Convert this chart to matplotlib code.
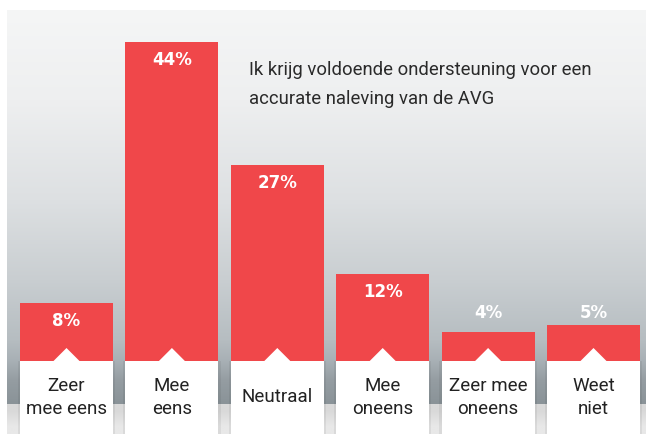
import numpy as np
import matplotlib
matplotlib.use("Agg")
import matplotlib.pyplot as plt
from matplotlib.patches import Rectangle, Polygon
from matplotlib.colors import to_rgb

categories = ["Zeer\nmee eens", "Mee\neens", "Neutraal", "Mee\noneens", "Zeer mee\noneens", "Weet\nniet"]
values = [8, 44, 27, 12, 4, 5]
title = "Ik krijg voldoende ondersteuning voor een\naccurate naleving van de AVG"

W, H = 646, 434
fig = plt.figure(figsize=(W / 100, H / 100), dpi=100)

# background in pixel coordinates
bg = fig.add_axes([0, 0, 1, 1])
bg.set_xlim(0, W)
bg.set_ylim(H, 0)
bg.axis("off")
stops = [(10, "#f5f6f6"), (100, "#eeeff0"), (200, "#dde0e2"), (280, "#c9ced1"),
         (340, "#b6bdc1"), (361, "#a8b0b5"), (380, "#959da2"), (404, "#8a9398")]
ys = np.arange(10, 405)
sy = [s[0] for s in stops]
cols = np.array([to_rgb(s[1]) for s in stops])
grad = np.stack([np.interp(ys, sy, cols[:, k]) for k in range(3)], axis=-1)
img = np.repeat(grad[:, None, :], 2, axis=1)
bg.imshow(img, extent=[7, W, 404, 10], aspect="auto", interpolation="bilinear", zorder=0)
strip = np.array([[to_rgb("#d9d9d9")], [to_rgb("#e8e8e8")]])
bg.imshow(np.repeat(strip, 2, axis=1), extent=[7, W, H, 404], aspect="auto",
          interpolation="bilinear", zorder=0)

# main bar axes: left px 7..646, bottom px 361, top px 10
x0, x1 = 7, 646
ax = fig.add_axes([x0 / W, (H - 361) / H, (x1 - x0) / W, (361 - 10) / H])
ax.patch.set_alpha(0)
ax.axis("off")
step = 105.4
ax.set_xlim((x0 - 66.5) / step, (x1 - 66.5) / step)
ppu = 7.25
ax.set_ylim(0, (361 - 10) / ppu)
xs = np.arange(len(values))
bw = 93 / step
red = "#f0474a"
ax.bar(xs, values, width=bw, color=red, zorder=2)
for x, v in zip(xs, values):
    ty = v - 2.5 if v > 6 else 6.6
    ax.text(x, ty, f"{v}%", ha="center", va="center", color="white",
            fontsize=12, fontweight="bold", family="DejaVu Sans", zorder=4)
    tri = Polygon([[x - 13 / step, 0], [x + 13 / step, 0], [x, 13 / ppu]],
                  closed=True, facecolor="white", edgecolor="none", zorder=3)
    ax.add_patch(tri)

# label boxes axes: px 361..434
lab = fig.add_axes([x0 / W, 0, (x1 - x0) / W, (H - 361) / H])
lab.set_xlim(ax.get_xlim())
lab.set_ylim(0, 1)
lab.axis("off")
for x, c in zip(xs, categories):
    lab.add_patch(Rectangle((x - bw / 2 - 0.02, 0), bw + 0.04, 1.0, facecolor="#000000",
                            alpha=0.06, edgecolor="none", zorder=1))
    lab.add_patch(Rectangle((x - bw / 2, 0), bw, 1.0, facecolor="white",
                            edgecolor="none", zorder=2))
    lab.text(x, 0.50, c, ha="center", va="center", fontsize=13.5, color="#222222",
             family=["Roboto", "DejaVu Sans"], linespacing=1.3, zorder=3)

fig.text(249 / W, 1 - 61 / H, title, ha="left", va="top", fontsize=13.3, color="#2a2a2a",
         family=["Roboto", "DejaVu Sans"], linespacing=1.75)

fig.savefig("out.png", dpi=100)
